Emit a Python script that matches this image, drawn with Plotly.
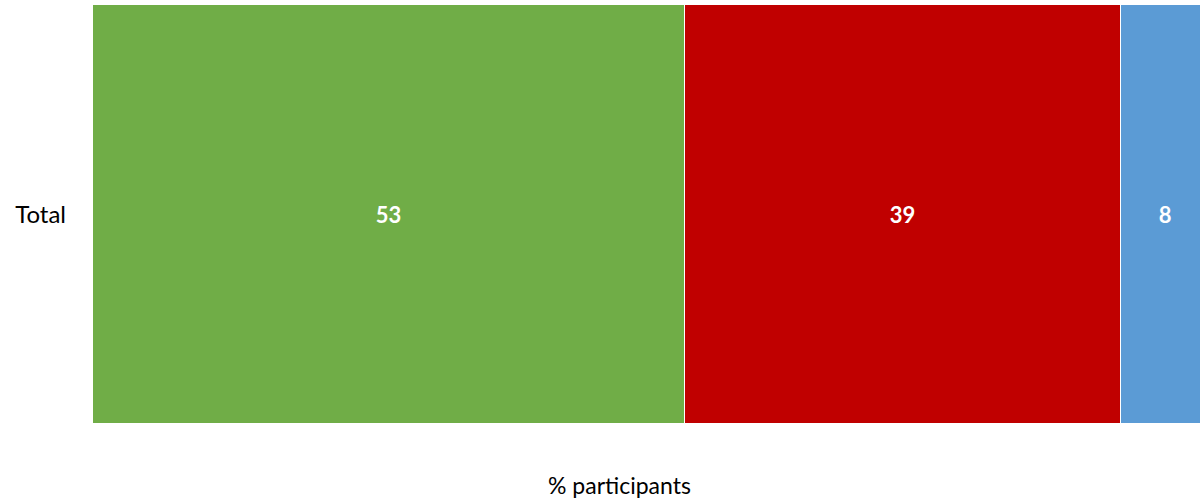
import plotly.graph_objects as go

categories = ["Total"]
series_names = ["Green", "Red", "Blue"]
series_values = [[53], [39], [8]]
series_colors = ["#70AD47", "#C00000", "#5B9BD5"]
x_title = "% participants"

fig = go.Figure()
for name, vals, col in zip(series_names, series_values, series_colors):
    fig.add_trace(go.Bar(
        y=categories, x=vals, name=name, orientation="h",
        marker=dict(color=col, line=dict(color="white", width=1)),
        text=[str(v) for v in vals], textposition="inside",
        insidetextanchor="middle",
        textfont=dict(family="Lato", size=22, color="white", weight="bold"),
        hoverinfo="x+name",
    ))

fig.update_layout(
    barmode="stack", bargap=0,
    width=1200, height=499,
    margin=dict(l=93, r=0, t=5, b=75),
    paper_bgcolor="white", plot_bgcolor="white",
    showlegend=False,
    font=dict(family="Lato", size=22, color="black"),
    xaxis=dict(range=[0, 99.1], showticklabels=False, showgrid=False,
               zeroline=False, showline=False, ticks=""),
    yaxis=dict(showgrid=False, zeroline=False, showline=False, ticks="",
               ticklabelstandoff=26, tickfont=dict(family="Lato", size=24)),
    uniformtext=dict(mode=False),
    annotations=[dict(text=x_title, xref="paper", yref="paper",
                      x=(619 - 93) / 1107, y=-61 / 419, xanchor="center",
                      yanchor="middle", showarrow=False,
                      font=dict(family="Lato", size=23))],
)

fig.write_html("out.html")
